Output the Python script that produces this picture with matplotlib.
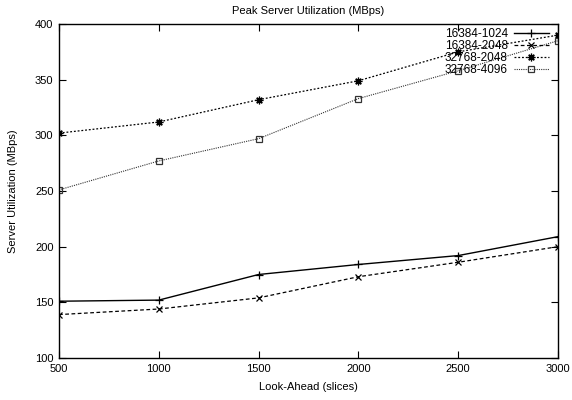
import matplotlib
matplotlib.use("Agg")
import matplotlib.pyplot as plt

plt.rcParams['font.family'] = ['Liberation Sans', 'DejaVu Sans']
plt.rcParams['font.size'] = 8

x = [500, 1000, 1500, 2000, 2500, 3000]
s_16384_1024 = [151, 152, 175, 184, 192, 209]
s_16384_2048 = [139, 144, 154, 173, 186, 200]
s_32768_2048 = [302, 312, 332, 349, 375, 390]
s_32768_4096 = [251, 277, 297, 333, 358, 385]
labels = ["16384-1024", "16384-2048", "32768-2048", "32768-4096"]

fig = plt.figure(figsize=(5.72, 4.0), dpi=100)
ax = fig.add_axes([59/572, 1-358/400, (558-59)/572, (358-24)/400])

ax.plot(x, s_16384_1024, color='black', lw=1.0, ls='-', marker='+', ms=6, mew=0.9, label=labels[0])
ax.plot(x, s_16384_2048, color='black', lw=0.9, ls=(0, (3, 2)), marker='x', ms=4.5, mew=0.9, label=labels[1])
ax.plot(x, s_32768_2048, color='black', lw=0.9, ls=(0, (1.5, 1.5)), marker=(8, 2, 0), ms=5.5, mew=0.9, label=labels[2])
ax.plot(x, s_32768_4096, color='#333333', lw=0.8, ls=(0, (1, 1)), marker='s', ms=4, mfc='none', mew=0.9, label=labels[3])

ax.set_xlim(500, 3000)
ax.set_ylim(100, 400)
ax.set_xticks([500, 1000, 1500, 2000, 2500, 3000])
ax.set_yticks([100, 150, 200, 250, 300, 350, 400])
ax.tick_params(direction='in', top=True, right=True, length=5, width=0.8, labelsize=8, pad=4)
for sp in ax.spines.values():
    sp.set_linewidth(1.0)

ax.set_title("Peak Server Utilization (MBps)", fontsize=8, pad=7)
ax.set_xlabel("Look-Ahead (slices)", fontsize=8, labelpad=6)
ax.set_ylabel("Server Utilization (MBps)", fontsize=8, labelpad=12)

leg = ax.legend(loc='upper right', bbox_to_anchor=(0.987, 0.995), frameon=False, markerfirst=False,
                handlelength=3.0, handletextpad=0.5, labelspacing=0.0, borderaxespad=0.0,
                fontsize=8.5, borderpad=0.2)

fig.savefig("out.png", dpi=100)
